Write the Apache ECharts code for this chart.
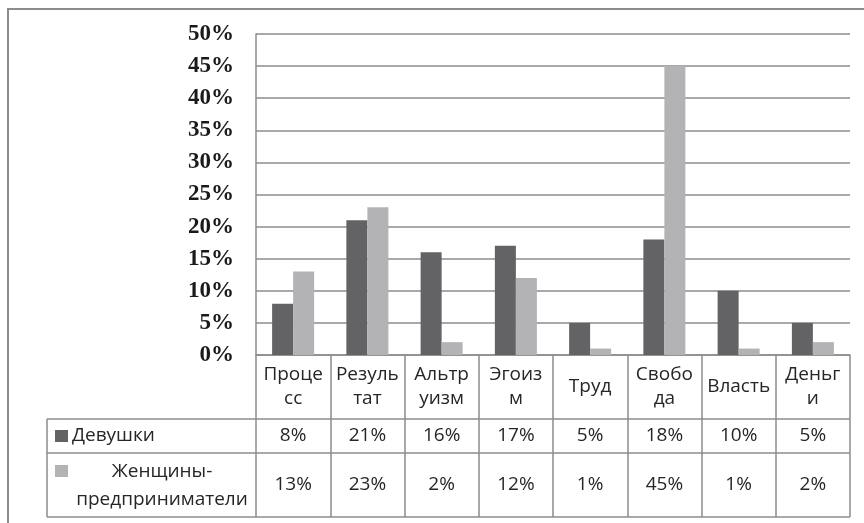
<!DOCTYPE html>
<html>
<head>
<meta charset="utf-8">
<script src="https://cdn.jsdelivr.net/npm/echarts@6/dist/echarts.min.js"></script>
<style>
html,body{margin:0;padding:0;background:#fff;}
#c{width:864px;height:523px;}
</style>
</head>
<body>
<div id="c"></div>
<script>
// ---- data ----
const categories = ['Процесс','Результат','Альтруизм','Эгоизм','Труд','Свобода','Власть','Деньги'];
const tickLabels = ['Проце\nсс','Резуль\nтат','Альтр\nуизм','Эгоиз\nм','Труд','Свобо\nда','Власть','Деньг\nи'];
const seriesNames = ['Девушки','Женщины-\nпредприниматели'];
const girls = [8,21,16,17,5,18,10,5];
const women = [13,23,2,12,1,45,1,2];
const yTicks = [0,5,10,15,20,25,30,35,40,45,50];

// ---- layout ----
const W = 864, H = 523;
const gL = 256, gT = 34, gR = 850, gB = 355;
const headerH = 64, row1H = 34, row2H = 64;
const tableLeft = 47;
const gray = '#8c8c8c';
const dark = '#636366', light = '#b3b3b5';
const txt = '#262626';
const font = 'Open Sans';
const fs = 19;

const chart = echarts.init(document.getElementById('c'), null, {renderer:'canvas'});
const yRow1 = gB + headerH, yRow2 = yRow1 + row1H, yEnd = yRow2 + row2H;

const option = {
  animation:false,
  backgroundColor:'#fff',
  grid:{left:gL, top:gT, right:W-gR, bottom:H-gB, containLabel:false},
  xAxis:[
    {type:'category', data:categories, position:'bottom',
     axisLine:{show:true, lineStyle:{color:gray, width:1.5}},
     axisTick:{show:true, alignWithLabel:false, length:yEnd-gB, lineStyle:{color:gray, width:1.5}},
     axisLabel:{interval:0, margin:headerH/2, verticalAlign:'middle', color:txt, fontFamily:font, fontSize:fs, lineHeight:24,
       formatter:(v,i)=>tickLabels[i]},
     splitLine:{show:false}},
    {type:'category', data:categories, position:'bottom', offset:headerH,
     axisLine:{show:false}, axisTick:{show:false},
     axisLabel:{interval:0, margin:row1H/2, verticalAlign:'middle', color:txt, fontFamily:font, fontSize:fs,
       formatter:(v,i)=>girls[i]+'%'}},
    {type:'category', data:categories, position:'bottom', offset:headerH+row1H,
     axisLine:{show:false}, axisTick:{show:false},
     axisLabel:{interval:0, margin:row2H/2, verticalAlign:'middle', color:txt, fontFamily:font, fontSize:fs,
       formatter:(v,i)=>women[i]+'%'}}
  ],
  yAxis:{type:'value', min:yTicks[0], max:yTicks[yTicks.length-1], interval:5,
    axisLine:{show:true, lineStyle:{color:gray, width:1.5}},
    axisTick:{show:false},
    axisLabel:{margin:22, color:'#1a1a1a', fontFamily:'Liberation Serif', fontWeight:'bold', fontSize:23,
      formatter:v=>v+'%'},
    splitLine:{show:true, lineStyle:{color:gray, width:1.5}}},
  series:[
    {name:seriesNames[0], type:'bar', data:girls, barWidth:21, barGap:'0%', itemStyle:{color:dark}},
    {name:seriesNames[1], type:'bar', data:women, barWidth:21, barGap:'0%', itemStyle:{color:light}}
  ],
  graphic:[
    {type:'rect', shape:{x:8, y:9, width:W+20, height:H+20}, style:{fill:'none', stroke:gray, lineWidth:2}},
    {type:'line', shape:{x1:tableLeft, y1:yRow1, x2:gR, y2:yRow1}, style:{stroke:gray, lineWidth:1.5}},
    {type:'line', shape:{x1:tableLeft, y1:yRow2, x2:gR, y2:yRow2}, style:{stroke:gray, lineWidth:1.5}},
    {type:'line', shape:{x1:tableLeft, y1:yEnd, x2:gR, y2:yEnd}, style:{stroke:gray, lineWidth:1.5}},
    {type:'line', shape:{x1:tableLeft, y1:yRow1, x2:tableLeft, y2:yEnd}, style:{stroke:gray, lineWidth:1.5}},
    {type:'rect', shape:{x:tableLeft+8, y:yRow1+11, width:13, height:12}, style:{fill:dark}},
    {type:'text', x:tableLeft+25, y:yRow1+row1H/2, style:{text:seriesNames[0], fill:txt, font:fs+'px "Open Sans"', textAlign:'left', textVerticalAlign:'middle'}},
    {type:'rect', shape:{x:tableLeft+8, y:yRow2+12, width:13, height:12}, style:{fill:light}},
    {type:'text', x:(tableLeft+21+gL)/2, y:yRow2+row2H/2+1, style:{text:seriesNames[1], fill:txt, font:fs+'px "Open Sans"', textAlign:'center', textVerticalAlign:'middle', lineHeight:28}}
  ]
};
chart.setOption(option);
</script>
</body>
</html>
